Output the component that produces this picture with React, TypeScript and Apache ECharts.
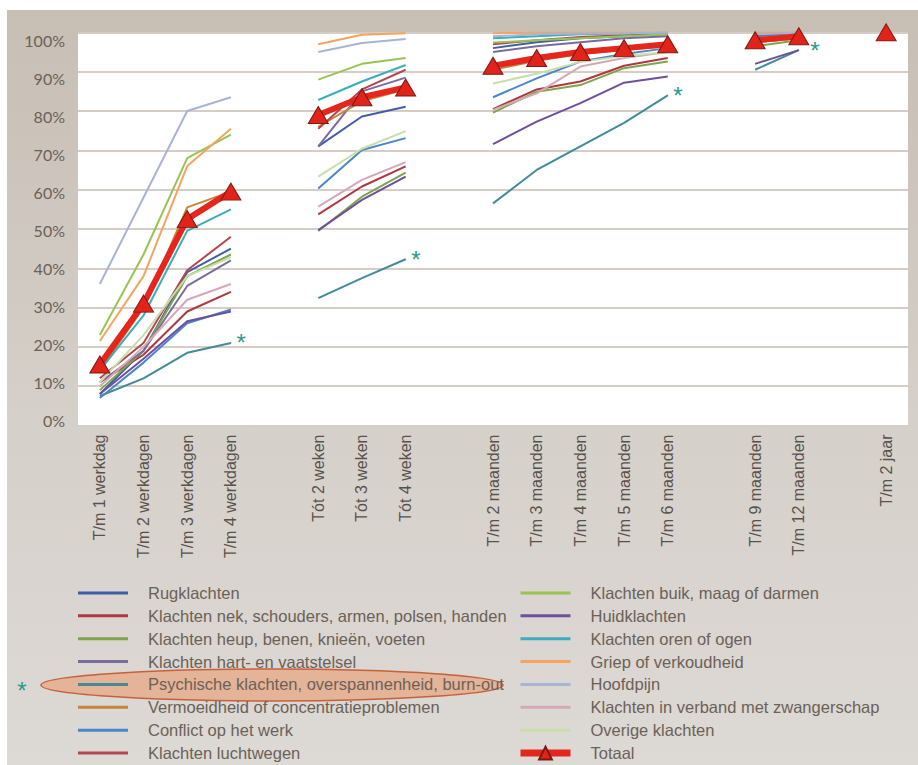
import React, { useEffect, useRef } from "react";
import * as echarts from "echarts";

const _ = null;

const categories = [
  "T/m 1 werkdag", "T/m 2 werkdagen", "T/m 3 werkdagen", "T/m 4 werkdagen", "",
  "Tót 2 weken", "Tót 3 weken", "Tót 4 weken", "",
  "T/m 2 maanden", "T/m 3 maanden", "T/m 4 maanden", "T/m 5 maanden", "T/m 6 maanden", "",
  "T/m 9 maanden", "T/m 12 maanden", "",
  "T/m 2 jaar",
];

const rugklachten = [8, 19, 39, 45, _, 71, 78.6, 81.1, _, 96, 97.5, 98.5, 99, 99.5, _, 99, 99.8, _, _];
const nek = [11, 18, 29, 34, _, 53.7, 60.8, 65.9, _, 80.5, 85.5, 87.5, 91.5, 93.5, _, 97.5, 98.5, _, _];
const heup = [9, 19, 38, 43.5, _, 49.5, 58.2, 64.3, _, 79.6, 84.9, 86.6, 90.9, 92.6, _, 96.5, 98, _, _];
const hart = [11, 19, 35.5, 42, _, 71, 85, 88.5, _, 95, 96.5, 97.5, 98.5, 99, _, 99, 99.5, _, _];
const psychisch = [7.5, 12, 18.5, 21, _, 32.4, 37.5, 42.3, _, 56.5, 65, 71, 77, 84, _, 90.5, 95.5, _, _];
const vermoeidheid = [14, 30, 55.5, 59.5, _, 76, 82.5, 85.5, _, 90.5, 92.8, 94.5, 95.5, 96.5, _, 97.5, 98.5, _, _];
const conflict = [7, 16, 26, 29.5, _, 60.3, 70.1, 73.1, _, 83.5, 88.3, 92.6, 94.5, 96, _, 97.5, 99, _, _];
const luchtwegen = [12, 21, 39.5, 48, _, 75.5, 85.5, 90.5, _, 97, 98, 98.8, 99.3, 99.6, _, 98, 99, _, _];
const buik = [23, 43.5, 68, 74, _, 88, 92, 93.5, _, 97.4, 98, 98.5, 99, 99.5, _, 98.5, 99.5, _, _];
const huid = [8, 17, 26.5, 29, _, 49.7, 57.4, 63.3, _, 71.6, 77.3, 82, 87.2, 88.8, _, 92, 95.5, _, _];
const orenOgen = [14, 28, 49.5, 55, _, 82.8, 87.5, 91.7, _, 98.5, 99, 99.5, 99.7, 99.9, _, 99.5, 100, _, _];
const griep = [21.5, 38, 66, 75.5, _, 97, 99.4, 99.8, _, 99.8, 100, 100, 100, 100, _, 100, 100, _, _];
const hoofdpijn = [36, 58, 80, 83.5, _, 95, 97.3, 98.3, _, 99, 99.5, 99.7, 99.8, 100, _, 99.5, 100, _, _];
const zwangerschap = [10, 20, 32, 36, _, 55.7, 62.5, 67, _, 80.3, 84.5, 91.3, 93.5, 95, _, 98, 99, _, _];
const overige = [11, 23, 38, 42.8, _, 63.3, 70.4, 74.9, _, 87, 89.5, 92.5, 94, 95, _, 97.5, 98.5, _, _];
const totaal = [15.5, 31, 52.5, 59.5, _, 79, 83.5, 86, _, 91.5, 93.5, 95, 96, 97, _, 98, 99, _, 100];

// indices of the last point of each segment of the marked (*) series
const markedEnds = [3, 7, 13, 16];

const leftLegend = [
  "Rugklachten",
  "Klachten nek, schouders, armen, polsen, handen",
  "Klachten heup, benen, knieën, voeten",
  "Klachten hart- en vaatstelsel",
  "Psychische klachten, overspannenheid, burn-out",
  "Vermoeidheid of concentratieproblemen",
  "Conflict op het werk",
  "Klachten luchtwegen",
];
const rightLegend = [
  "Klachten buik, maag of darmen",
  "Huidklachten",
  "Klachten oren of ogen",
  "Griep of verkoudheid",
  "Hoofdpijn",
  "Klachten in verband met zwangerschap",
  "Overige klachten",
  "Totaal",
];

const thinSeries = [
  { name: leftLegend[0], data: rugklachten, color: "#3d5fa8" },
  { name: leftLegend[1], data: nek, color: "#ad383e" },
  { name: leftLegend[2], data: heup, color: "#7ea54a" },
  { name: leftLegend[3], data: hart, color: "#7a6b9e" },
  { name: leftLegend[4], data: psychisch, color: "#428b98", marked: true },
  { name: leftLegend[5], data: vermoeidheid, color: "#c8843c" },
  { name: leftLegend[6], data: conflict, color: "#4a86cc" },
  { name: leftLegend[7], data: luchtwegen, color: "#b3474f" },
  { name: rightLegend[0], data: buik, color: "#97c453" },
  { name: rightLegend[1], data: huid, color: "#6d4f9e" },
  { name: rightLegend[2], data: orenOgen, color: "#3aaebd" },
  { name: rightLegend[3], data: griep, color: "#f4a45e" },
  { name: rightLegend[4], data: hoofdpijn, color: "#a6b4d6" },
  { name: rightLegend[5], data: zwangerschap, color: "#d4a8b6" },
  { name: rightLegend[6], data: overige, color: "#c8dfa9" },
];

const TEAL = "#2a9a8a";
const LINE_ICON = "path://M0 0H50V3H0Z";

export default function App() {
  const ref = useRef<HTMLDivElement>(null);
  useEffect(() => {
    document.body.style.margin = "0";
    const chart = echarts.init(ref.current as HTMLDivElement, null, { renderer: "svg" });

    const series: any[] = thinSeries.map((s) => ({
      type: "line",
      name: s.name,
      xAxisIndex: 0,
      yAxisIndex: 0,
      symbol: "none",
      lineStyle: { color: s.color, width: 2 },
      itemStyle: { color: s.color },
      data: s.data.map((v, i) =>
        s.marked && markedEnds.includes(i)
          ? {
              value: v,
              symbol: "circle",
              symbolSize: 1,
              label: {
                show: true,
                position: "right",
                distance: i === 16 ? 11 : 5,
                formatter: "*",
                fontSize: 24,
                color: TEAL,
                fontFamily: "Liberation Sans",
              },
            }
          : v
      ),
      emphasis: { disabled: true },
      z: 2,
    }));

    series.push({
      type: "line",
      name: "Totaal",
      xAxisIndex: 0,
      yAxisIndex: 0,
      symbol: "triangle",
      symbolSize: [20, 17],
      lineStyle: { color: "#e5261d", width: 6 },
      itemStyle: { color: "#e2231a", borderColor: "#7a1a14", borderWidth: 1 },
      data: totaal,
      emphasis: { disabled: true },
      z: 5,
    });

    const legendCommon = {
      orient: "vertical",
      top: 584.5,
      padding: 0,
      itemWidth: 50,
      itemHeight: 16,
      itemGap: 5.86,
      selectedMode: false,
      z: 6,
      textStyle: {
        fontFamily: "Liberation Sans",
        fontSize: 16.5,
        lineHeight: 17,
        color: "#6b6158",
        padding: [0, 0, 0, 15],
      },
    };
    const legendItem = (n: string) =>
      n === "Totaal" ? { name: n, lineStyle: { width: 7 } } : { name: n, icon: LINE_ICON };

    const option: any = {
      animation: false,
      grid: [
        {
          left: 78, right: 10, top: 32.4, bottom: 339.5,
          show: true, backgroundColor: "#ffffff", borderWidth: 0,
          outerBoundsMode: "none",
        },
        { left: 78, right: 10, top: 40, bottom: 344.3, show: false, outerBoundsMode: "none" },
      ],
      xAxis: [
        {
          type: "category",
          gridIndex: 0,
          data: categories,
          boundaryGap: true,
          axisLine: { show: false },
          axisTick: { show: false },
          axisLabel: {
            rotate: 90,
            interval: 0,
            margin: 9,
            fontSize: 16,
            color: "#58524c",
            fontFamily: "Liberation Sans",
          },
        },
        { type: "value", gridIndex: 1, show: false },
      ],
      yAxis: [
        {
          type: "value",
          gridIndex: 0,
          min: 0,
          max: 100,
          interval: 10,
          axisLabel: { show: false },
          axisLine: { show: false },
          axisTick: { show: false },
          splitLine: { lineStyle: { color: "#d6cec6", width: 2 } },
        },
        {
          type: "value",
          gridIndex: 1,
          min: 0,
          max: 100,
          interval: 10,
          axisLine: { show: false },
          axisTick: { show: false },
          splitLine: { show: false },
          axisLabel: {
            formatter: "{value}%",
            margin: 13,
            fontSize: 16,
            color: "#6c6158",
            fontFamily: "Lato",
          },
        },
      ],
      legend: [
        { ...legendCommon, left: 78, data: leftLegend.map(legendItem) },
        { ...legendCommon, left: 517, data: rightLegend.map(legendItem) },
      ],
      graphic: [
        {
          type: "rect",
          z: -100,
          silent: true,
          shape: { x: 7, y: 10, width: 911, height: 755 },
          style: {
            fill: new echarts.graphic.LinearGradient(0, 0, 0, 1, [
              { offset: 0, color: "#c7beb4" },
              { offset: 0.55, color: "#d6d0ca" },
              { offset: 1, color: "#ddd9d5" },
            ]),
          },
        },
        {
          type: "ellipse",
          z: 1,
          silent: true,
          shape: { cx: 272, cy: 685, rx: 231, ry: 16 },
          style: { fill: "#e4b398", stroke: "#c5623b", lineWidth: 1.5 },
        },
        {
          type: "text",
          z: 7,
          silent: true,
          x: 22,
          y: 690,
          style: {
            text: "*",
            fill: TEAL,
            fontSize: 24,
            fontFamily: "Liberation Sans",
            align: "center",
            verticalAlign: "middle",
          },
        },
      ],
      series,
    };

    chart.setOption(option);
    return () => chart.dispose();
  }, []);
  return <div ref={ref} style={{ width: 918, height: 765 }} />;
}
